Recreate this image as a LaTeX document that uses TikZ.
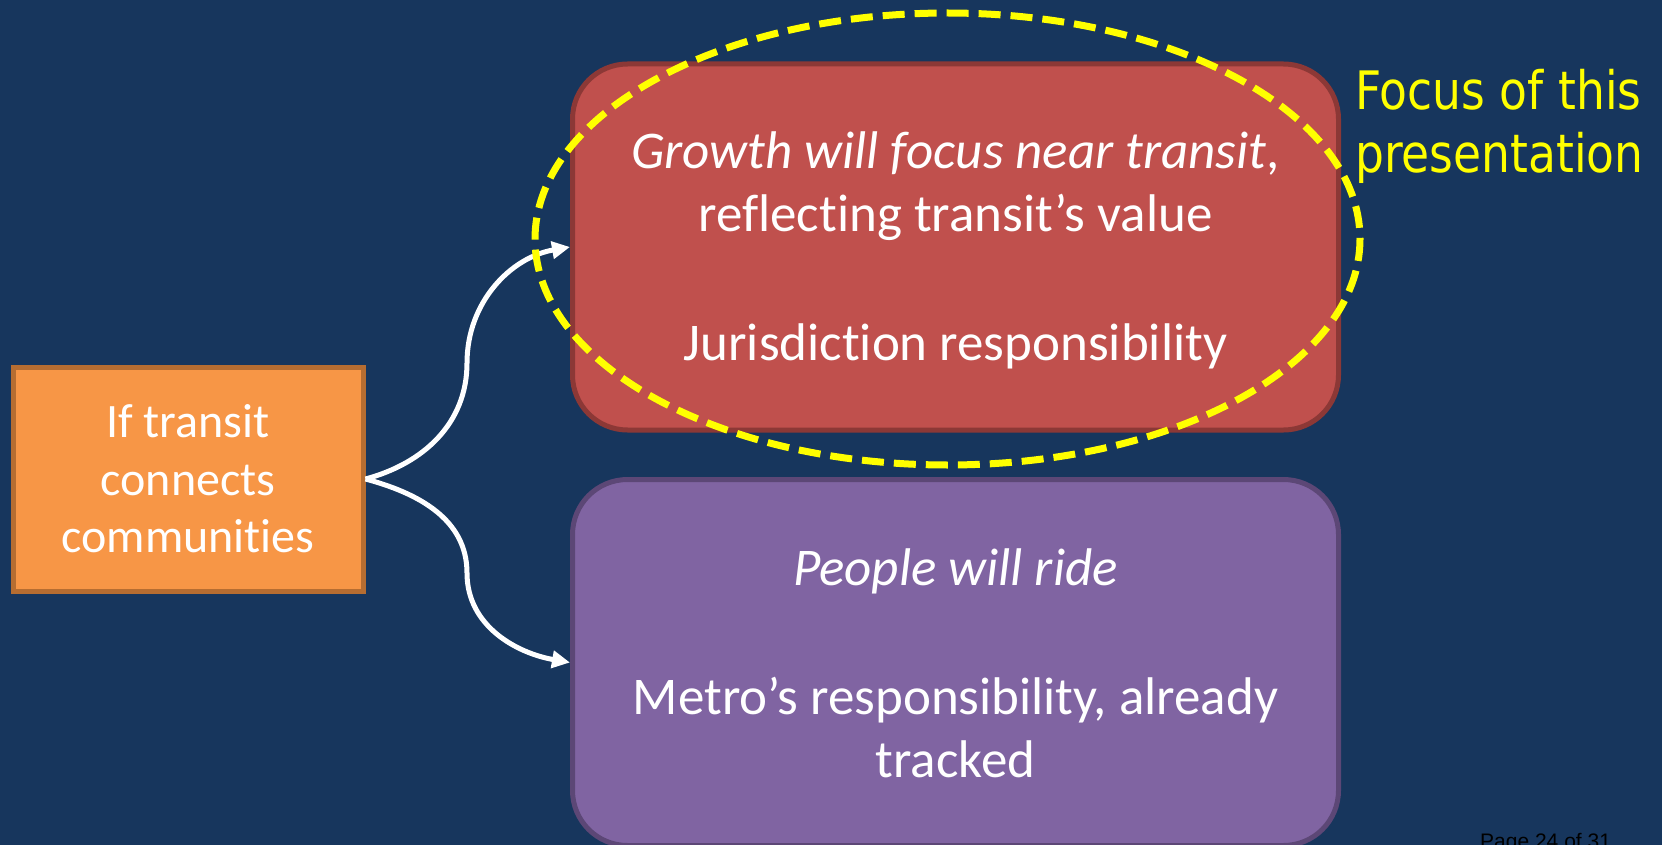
\documentclass[tikz,border=0pt]{standalone}
\usepackage{fontspec}
\setmainfont{Carlito}[Ligatures=NoCommon]
\newfontfamily\focusfont[FakeStretch=0.86]{DejaVu Sans}
\newfontfamily\pagefont{Liberation Sans}
\usetikzlibrary{arrows.meta}
\definecolor{bgnavy}{HTML}{17365D}
\definecolor{redfill}{HTML}{C0504D}
\definecolor{redline}{HTML}{8C3836}
\definecolor{purplefill}{HTML}{8064A2}
\definecolor{purpleline}{HTML}{5C4776}
\definecolor{orangefill}{HTML}{F79646}
\definecolor{orangeline}{HTML}{B66D31}
\definecolor{focusyellow}{HTML}{FFFF00}
\tikzset{
  bigbox/.style={draw, line width=5pt, rounded corners=55pt, minimum width=766pt, minimum height=366pt, inner sep=0pt},
  boxtext/.style={text=white, anchor=base, inner sep=0pt, font=\fontsize{53}{61.5}\selectfont},
  srctext/.style={text=white, anchor=base, inner sep=0pt, font=\fontsize{48}{58}\selectfont},
  flow/.style={draw=white, line width=5pt, -{Triangle[length=18pt,width=17pt]}},
  focusring/.style={draw=focusyellow, line width=7pt, dash pattern=on 22pt off 10pt},
}
\begin{document}
\begin{tikzpicture}[x=1pt,y=-1pt]
\useasboundingbox (0,0) rectangle (1662,845);
\clip (0,0) rectangle (1662,845);
\fill[bgnavy] (0,0) rectangle (1662,845);

% source box
\node[draw=orangeline, fill=orangefill, line width=5pt, minimum width=350pt, minimum height=224pt, inner sep=0pt] (src) at (188,479) {};
\node[srctext] (src1) at (188,437) {If transit};
\node[srctext] (src2) at (188,495) {connects};
\node[srctext] (src3) at (188,552) {communities};

% outcome boxes
\node[bigbox, draw=redline, fill=redfill] (growth) at (955.5,247) {};
\node[boxtext] (g1) at (955.5,169) {\itshape Growth will focus near transit\upshape,};
\node[boxtext] (g2) at (955.5,232) {reflecting transit’s value};
\node[boxtext] (g3) at (955.5,360) {Jurisdiction responsibility};

\node[bigbox, draw=purpleline, fill=purplefill] (ride) at (955.5,662.5) {};
\node[boxtext] (r1) at (955.5,585) {\itshape People will ride};
\node[boxtext] (r2) at (955.5,714) {Metro’s responsibility, already};
\node[boxtext] (r3) at (955.5,777) {tracked};

% branching connectors
\coordinate (upbend) at (467,363);
\coordinate (downbend) at (467,573);
\draw[flow] (src.east) to[out=15,in=-90] (upbend) to[out=90,in=190] (growth.west);
\draw[flow] (src.east) to[out=-15,in=90] (downbend) to[out=-90,in=170] (ride.west);

% highlight ring
\draw[focusring] (947.5,239) ellipse [x radius=412.5, y radius=226];
\node[text=focusyellow, anchor=base west, inner sep=0pt, align=left, font=\focusfont\fontsize{53}{63}\selectfont] (focus) at (1355,173) {Focus of this\\presentation};

% footer
\node[anchor=base west, inner sep=0pt, text=black, font=\pagefont\fontsize{21}{25}\selectfont] (pageno) at (1480,848) {Page 24 of 31};
\end{tikzpicture}
\end{document}
